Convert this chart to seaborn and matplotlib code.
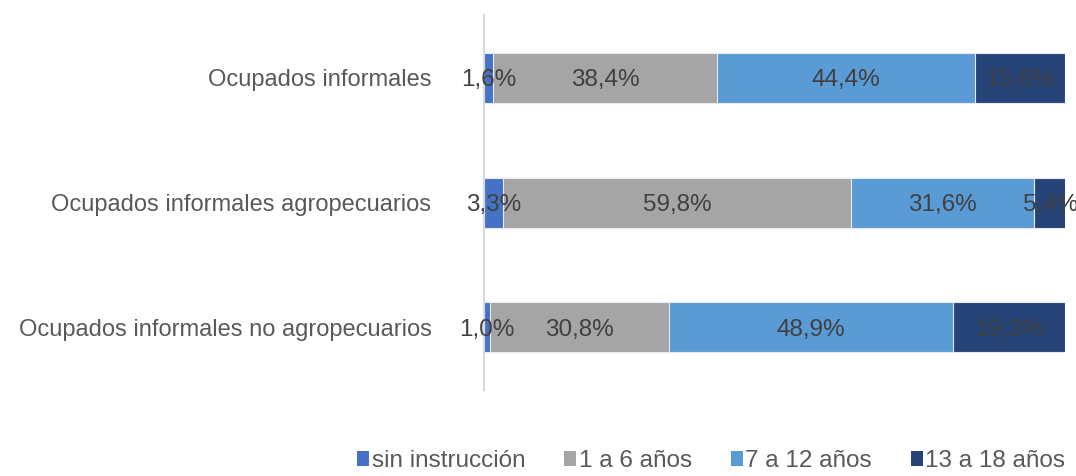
import numpy as np
import pandas as pd
import seaborn as sns
import matplotlib.pyplot as plt
from matplotlib.patches import Patch

# Data: educational level of informal workers (%)
categories = ['Ocupados informales', 'Ocupados informales agropecuarios',
              'Ocupados informales no agropecuarios']
series = ['sin instrucción', '1 a 6 años', '7 a 12 años', '13 a 18 años']
sin_instruccion = [1.6, 3.3, 1.0]
uno_a_seis = [38.4, 59.8, 30.8]
siete_a_doce = [44.4, 31.6, 48.9]
trece_a_dieciocho = [15.6, 5.4, 19.3]
colors = ['#4472C4', '#A5A5A5', '#5B9BD5', '#264478']

values = np.array([sin_instruccion, uno_a_seis, siete_a_doce, trece_a_dieciocho])
cum = values.cumsum(axis=0)

df = pd.DataFrame({'categoria': categories})
for i, s in enumerate(series):
    df[s] = cum[i]

sns.set_style('white')
plt.rcParams['font.family'] = ['Liberation Sans', 'DejaVu Sans']

fig = plt.figure(figsize=(10.76, 4.76), dpi=100)
ax = fig.add_axes([0.45, 0.181, 0.54, 0.787])

# stacked bars: draw cumulative totals from the largest down
for i in range(len(series) - 1, -1, -1):
    sns.barplot(data=df, x=series[i], y='categoria', color=colors[i],
                orient='h', width=0.4, edgecolor='#E8ECF2', linewidth=0.8,
                saturation=1, ax=ax)

# value labels centred in each segment
for j in range(len(categories)):
    for i in range(len(series)):
        left = cum[i, j] - values[i, j]
        ax.text(left + values[i, j] / 2, j, f'{values[i, j]:.1f}%'.replace('.', ','),
                ha='center', va='center_baseline', fontsize=17.5, color='#404040')

ax.set_xlim(0, 100)
ax.set_ylim(2.5, -0.5)
ax.set_xlabel('')
ax.set_ylabel('')
ax.set_xticks([])
ax.tick_params(axis='y', length=0, pad=38, labelsize=17, labelcolor='#595959')
for sp in ['top', 'right', 'bottom']:
    ax.spines[sp].set_visible(False)
ax.spines['left'].set_color('#D9D9D9')
ax.spines['left'].set_linewidth(1.5)

handles = [Patch(facecolor=c, edgecolor='none') for c in colors]
fig.legend(handles, series, loc='lower center', bbox_to_anchor=(0.661, -0.038),
           ncol=4, frameon=False, fontsize=17.5, labelcolor='#595959',
           handlelength=0.5, handleheight=0.55, handletextpad=0.1, columnspacing=1.6)

fig.savefig('out.png', dpi=100)
